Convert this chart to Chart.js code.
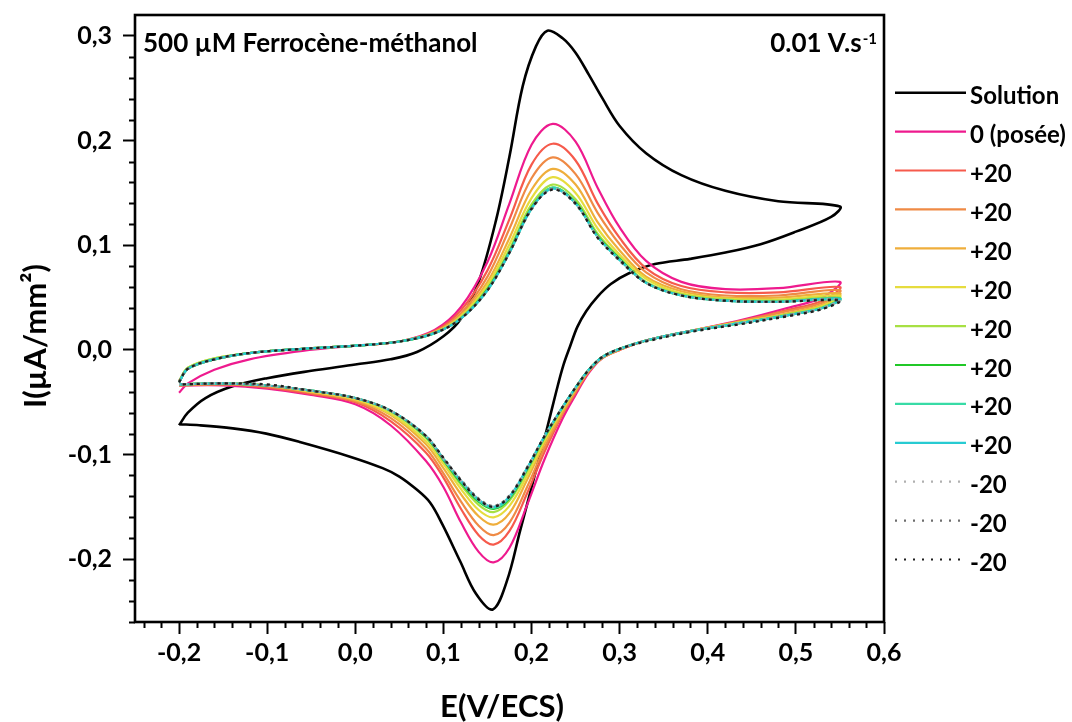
<!DOCTYPE html>
<html>
<head>
<meta charset="utf-8">
<script src="https://cdn.jsdelivr.net/npm/chart.js@4"></script>
<style>
  html, body { margin: 0; padding: 0; background: #fff; }
  #cv { display: block; }
</style>
</head>
<body>
<canvas id="cv" width="1072" height="722"></canvas>
<script>
// Potential grids (V vs ECS)
const solFwdE = [-0.2, -0.19, -0.17, -0.14, -0.1, -0.05, 0.0, 0.04, 0.07, 0.1, 0.12, 0.14, 0.16, 0.175, 0.19, 0.205, 0.218, 0.235, 0.25, 0.265, 0.28, 0.3, 0.33, 0.37, 0.42, 0.48, 0.55];
const solRevE = [0.54, 0.5, 0.46, 0.42, 0.38, 0.34, 0.31, 0.29, 0.275, 0.262, 0.252, 0.244, 0.236, 0.228, 0.217, 0.202, 0.187, 0.172, 0.156, 0.137, 0.119, 0.099, 0.085, 0.069, 0.05, 0.031, -0.006, -0.063, -0.101, -0.139, -0.177, -0.2];
const fwdE = [-0.2, -0.19, -0.16, -0.12, -0.06, 0.0, 0.05, 0.09, 0.12, 0.15, 0.175, 0.2, 0.224, 0.25, 0.275, 0.3, 0.33, 0.37, 0.42, 0.48, 0.55];
const revE = [0.53, 0.49, 0.44, 0.38, 0.33, 0.3, 0.28, 0.265, 0.25, 0.235, 0.215, 0.195, 0.175, 0.157, 0.14, 0.12, 0.1, 0.08, 0.04, 0.0, -0.05, -0.1, -0.15, -0.2];

// Current density (uA/mm2)
const solFwdI = [-0.072, -0.060, -0.046, -0.035, -0.027, -0.020, -0.014, -0.009, -0.002, 0.013, 0.030, 0.065, 0.125, 0.185, 0.252, 0.290, 0.305, 0.298, 0.284, 0.263, 0.241, 0.214, 0.188, 0.167, 0.152, 0.142, 0.137];
const solRevI = [0.127, 0.113, 0.101, 0.093, 0.087, 0.082, 0.073, 0.063, 0.051, 0.037, 0.022, 0.004, -0.015, -0.040, -0.077, -0.125, -0.173, -0.221, -0.248, -0.233, -0.202, -0.167, -0.146, -0.133, -0.121, -0.113, -0.102, -0.088, -0.080, -0.075, -0.072, -0.071];

const poseeFwd = [-0.041, -0.032, -0.019, -0.009, -0.001, 0.004, 0.008, 0.019, 0.041, 0.084, 0.140, 0.196, 0.216, 0.199, 0.155, 0.117, 0.085, 0.065, 0.058, 0.059, 0.065];
const poseeRev = [0.050, 0.040, 0.029, 0.018, 0.009, 0.000, -0.008, -0.022, -0.043, -0.066, -0.104, -0.148, -0.189, -0.203, -0.193, -0.165, -0.131, -0.106, -0.072, -0.052, -0.043, -0.037, -0.034, -0.034];
const p1Fwd = [-0.031, -0.018, -0.009, -0.003, 0.001, 0.004, 0.008, 0.018, 0.038, 0.076, 0.125, 0.177, 0.197, 0.181, 0.140, 0.107, 0.078, 0.061, 0.055, 0.055, 0.060];
const p1Rev = [0.047, 0.038, 0.028, 0.018, 0.009, 0.000, -0.008, -0.021, -0.041, -0.062, -0.097, -0.137, -0.173, -0.186, -0.177, -0.152, -0.122, -0.098, -0.068, -0.050, -0.042, -0.036, -0.033, -0.034];
const p2Fwd = [-0.030, -0.018, -0.009, -0.003, 0.001, 0.004, 0.008, 0.017, 0.035, 0.070, 0.116, 0.164, 0.184, 0.168, 0.131, 0.101, 0.074, 0.058, 0.052, 0.052, 0.057];
const p2Rev = [0.045, 0.037, 0.028, 0.018, 0.009, 0.000, -0.008, -0.020, -0.040, -0.061, -0.093, -0.131, -0.165, -0.177, -0.168, -0.145, -0.118, -0.094, -0.065, -0.049, -0.041, -0.035, -0.033, -0.034];
const p3Fwd = [-0.030, -0.018, -0.009, -0.003, 0.001, 0.004, 0.008, 0.017, 0.033, 0.065, 0.107, 0.153, 0.173, 0.158, 0.122, 0.095, 0.070, 0.056, 0.050, 0.050, 0.054];
const p3Rev = [0.043, 0.035, 0.027, 0.018, 0.009, 0.001, -0.007, -0.020, -0.038, -0.059, -0.089, -0.124, -0.156, -0.167, -0.159, -0.138, -0.113, -0.090, -0.062, -0.048, -0.040, -0.034, -0.032, -0.033];
const p4Fwd = [-0.030, -0.017, -0.008, -0.003, 0.001, 0.004, 0.008, 0.016, 0.032, 0.062, 0.101, 0.145, 0.165, 0.150, 0.116, 0.091, 0.068, 0.054, 0.049, 0.048, 0.052];
const p4Rev = [0.042, 0.034, 0.027, 0.018, 0.009, 0.001, -0.007, -0.019, -0.037, -0.057, -0.086, -0.120, -0.149, -0.160, -0.153, -0.133, -0.109, -0.087, -0.061, -0.047, -0.040, -0.034, -0.032, -0.033];
const p5Fwd = [-0.030, -0.017, -0.008, -0.003, 0.001, 0.004, 0.008, 0.016, 0.031, 0.059, 0.096, 0.139, 0.158, 0.144, 0.111, 0.088, 0.065, 0.053, 0.048, 0.047, 0.050];
const p5Rev = [0.041, 0.034, 0.026, 0.018, 0.009, 0.001, -0.007, -0.019, -0.036, -0.056, -0.084, -0.116, -0.144, -0.155, -0.148, -0.129, -0.106, -0.084, -0.059, -0.046, -0.039, -0.034, -0.032, -0.033];
const p6Fwd = [-0.031, -0.018, -0.009, -0.003, 0.001, 0.004, 0.008, 0.016, 0.030, 0.058, 0.094, 0.136, 0.155, 0.141, 0.109, 0.087, 0.064, 0.052, 0.047, 0.046, 0.049];
const p6Rev = [0.040, 0.033, 0.026, 0.018, 0.009, 0.001, -0.007, -0.019, -0.036, -0.055, -0.083, -0.114, -0.142, -0.152, -0.145, -0.127, -0.105, -0.083, -0.058, -0.046, -0.039, -0.034, -0.032, -0.033];
const p7Fwd = [-0.031, -0.018, -0.009, -0.003, 0.001, 0.004, 0.008, 0.016, 0.030, 0.057, 0.093, 0.135, 0.155, 0.140, 0.108, 0.086, 0.064, 0.052, 0.047, 0.046, 0.048];
const p7Rev = [0.040, 0.033, 0.026, 0.018, 0.009, 0.001, -0.007, -0.019, -0.036, -0.055, -0.082, -0.113, -0.141, -0.151, -0.144, -0.126, -0.104, -0.082, -0.058, -0.046, -0.039, -0.034, -0.032, -0.033];
const p8Fwd = [-0.031, -0.018, -0.009, -0.003, 0.001, 0.004, 0.008, 0.016, 0.030, 0.057, 0.093, 0.135, 0.154, 0.140, 0.108, 0.086, 0.064, 0.052, 0.047, 0.046, 0.049];
const p8Rev = [0.040, 0.033, 0.026, 0.018, 0.009, 0.001, -0.007, -0.019, -0.036, -0.055, -0.082, -0.113, -0.140, -0.150, -0.143, -0.125, -0.104, -0.082, -0.058, -0.046, -0.039, -0.034, -0.032, -0.033];
const m1Fwd = [-0.031, -0.018, -0.009, -0.003, 0.001, 0.004, 0.008, 0.016, 0.030, 0.057, 0.093, 0.135, 0.154, 0.140, 0.108, 0.086, 0.064, 0.052, 0.047, 0.046, 0.048];
const m1Rev = [0.040, 0.033, 0.026, 0.018, 0.009, 0.001, -0.007, -0.019, -0.036, -0.055, -0.082, -0.113, -0.140, -0.150, -0.143, -0.125, -0.104, -0.082, -0.058, -0.046, -0.039, -0.034, -0.032, -0.033];
const m2Fwd = [-0.030, -0.018, -0.009, -0.003, 0.001, 0.004, 0.008, 0.016, 0.030, 0.057, 0.093, 0.134, 0.154, 0.139, 0.108, 0.085, 0.064, 0.052, 0.047, 0.046, 0.048];
const m2Rev = [0.039, 0.033, 0.025, 0.018, 0.009, 0.001, -0.007, -0.019, -0.036, -0.055, -0.082, -0.112, -0.139, -0.149, -0.142, -0.124, -0.104, -0.082, -0.058, -0.046, -0.039, -0.034, -0.032, -0.033];
const m3Fwd = [-0.031, -0.018, -0.009, -0.003, 0.001, 0.004, 0.008, 0.016, 0.030, 0.057, 0.093, 0.135, 0.153, 0.140, 0.107, 0.086, 0.064, 0.052, 0.047, 0.046, 0.047];
const m3Rev = [0.039, 0.032, 0.025, 0.017, 0.008, 0.001, -0.007, -0.019, -0.036, -0.055, -0.082, -0.113, -0.140, -0.150, -0.143, -0.125, -0.103, -0.082, -0.058, -0.046, -0.039, -0.033, -0.032, -0.033];

const seriesLabels = ['Solution', '0 (posée)', '+20', '+20', '+20', '+20', '+20', '+20', '+20', '+20', '-20', '-20', '-20'];
const seriesColors = ['#000000', '#ee1a8e', '#f65a4c', '#ef8a45', '#efae3b', '#e6dc3e', '#a7e043', '#21c828', '#38dba6', '#27cbd2', '#b0b0b0', '#6e6e6e', '#1e1e1e'];

const xTicks = [-0.2, -0.1, 0.0, 0.1, 0.2, 0.3, 0.4, 0.5, 0.6];
const yTicks = [-0.2, -0.1, 0.0, 0.1, 0.2, 0.3];

const FONT = 'Lato, "Open Sans", sans-serif';

// join forward and reverse scans into one loop
function loop(fe, fi, re, ri) {
    const pts = fe.map((e, i) => ({x: e, y: fi[i]}));
    re.forEach((e, i) => pts.push({x: e, y: ri[i]}));
    return pts;
}

const curves = [
    loop(solFwdE, solFwdI, solRevE, solRevI),
    loop(fwdE, poseeFwd, revE, poseeRev),
    loop(fwdE, p1Fwd, revE, p1Rev),
    loop(fwdE, p2Fwd, revE, p2Rev),
    loop(fwdE, p3Fwd, revE, p3Rev),
    loop(fwdE, p4Fwd, revE, p4Rev),
    loop(fwdE, p5Fwd, revE, p5Rev),
    loop(fwdE, p6Fwd, revE, p6Rev),
    loop(fwdE, p7Fwd, revE, p7Rev),
    loop(fwdE, p8Fwd, revE, p8Rev),
    loop(fwdE, m1Fwd, revE, m1Rev),
    loop(fwdE, m2Fwd, revE, m2Rev),
    loop(fwdE, m3Fwd, revE, m3Rev)
];

const datasets = curves.map((pts, i) => {
    const dotted = seriesLabels[i] === '-20';
    return {
        label: seriesLabels[i],
        data: pts,
        borderColor: seriesColors[i],
        backgroundColor: seriesColors[i],
        borderWidth: i === 0 ? 2.6 : 2.2,
        borderDash: dotted ? [3, 4] : [],
        legendDash: dotted ? [2, 7] : [],
        showLine: true,
        pointRadius: 0,
        tension: 0.35,
        order: curves.length - i
    };
});

function fmt(v) {
    return v.toFixed(1).replace('.', ',');
}

// minor ticks, frame, texts and legend
const decor = {
    id: 'decor',
    afterDraw(chart) {
        const ctx = chart.ctx;
        const a = chart.chartArea;
        const xs = chart.scales.x, ys = chart.scales.y;
        ctx.save();
        ctx.strokeStyle = '#000';
        ctx.lineWidth = 2;
        ctx.beginPath();
        for (let k = -12; k <= 30; k++) {
            if (k % 5 === 0) continue;
            const px = Math.round(xs.getPixelForValue(k / 50)) + 0.5;
            ctx.moveTo(px, a.bottom);
            ctx.lineTo(px, a.bottom + 6);
        }
        for (let k = -13; k <= 15; k++) {
            if (k % 5 === 0) continue;
            const py = Math.round(ys.getPixelForValue(k / 50)) + 0.5;
            ctx.moveTo(a.left, py);
            ctx.lineTo(a.left - 6, py);
        }
        ctx.stroke();

        ctx.lineWidth = 2.6;
        ctx.strokeRect(a.left, a.top, a.right - a.left, a.bottom - a.top);

        ctx.fillStyle = '#000';
        ctx.font = 'bold 26px ' + FONT;
        ctx.textBaseline = 'alphabetic';
        ctx.textAlign = 'left';
        ctx.fillText('500 µM Ferrocène-méthanol', a.left + 8, 52);
        ctx.textAlign = 'right';
        ctx.font = 'bold 15px ' + FONT;
        ctx.fillText('-1', 877, 44);
        const w = ctx.measureText('-1').width;
        ctx.font = 'bold 26px ' + FONT;
        ctx.fillText('0.01 V.s', 877 - w - 1, 52);

        // axis titles
        ctx.font = 'bold 31px ' + FONT;
        ctx.textAlign = 'center';
        ctx.fillText('E(V/ECS)', 502, 717);
        ctx.save();
        ctx.translate(46, 336);
        ctx.rotate(-Math.PI / 2);
        ctx.fillText('I(µA/mm²)', 0, 0);
        ctx.restore();

        // legend
        ctx.textAlign = 'left';
        ctx.font = 'bold 24px ' + FONT;
        chart.data.datasets.forEach((ds, i) => {
            const y = 92.7 + i * 38.9;
            ctx.save();
            ctx.strokeStyle = ds.borderColor;
            ctx.lineWidth = ds.borderWidth;
            ctx.setLineDash(ds.legendDash);
            ctx.beginPath();
            ctx.moveTo(895, y);
            ctx.lineTo(966, y);
            ctx.stroke();
            ctx.restore();
            ctx.fillText(ds.label, 970, y + 11.5);
        });
        ctx.restore();
    }
};

new Chart(document.getElementById('cv'), {
    type: 'scatter',
    data: { datasets: datasets },
    options: {
        responsive: false,
        animation: false,
        devicePixelRatio: 1,
        layout: { padding: { left: 0, right: 188, top: 15, bottom: 0 } },
        plugins: { legend: { display: false }, tooltip: { enabled: false } },
        scales: {
            x: {
                type: 'linear',
                min: -0.25,
                max: 0.6,
                afterBuildTicks: (s) => { s.ticks = xTicks.map(v => ({ value: v })); },
                afterFit: (s) => { s.height = 100; s.paddingLeft = 0; s.paddingRight = 0; },
                border: { display: false },
                grid: { drawOnChartArea: false, drawTicks: true, tickLength: 12, tickWidth: 2, tickColor: '#000' },
                ticks: { color: '#000', padding: 4, maxRotation: 0, font: { family: FONT, size: 25, weight: 'bold' }, callback: (v) => fmt(v) }
            },
            y: {
                type: 'linear',
                min: -0.26,
                max: 0.32,
                afterBuildTicks: (s) => { s.ticks = yTicks.map(v => ({ value: v })); },
                afterFit: (s) => { s.width = 135; s.paddingTop = 0; s.paddingBottom = 0; },
                border: { display: false },
                grid: { drawOnChartArea: false, drawTicks: true, tickLength: 12, tickWidth: 2, tickColor: '#000' },
                ticks: { color: '#000', padding: 11, font: { family: FONT, size: 25, weight: 'bold' }, callback: (v) => fmt(v) }
            }
        }
    },
    plugins: [decor]
});
</script>
</body>
</html>
